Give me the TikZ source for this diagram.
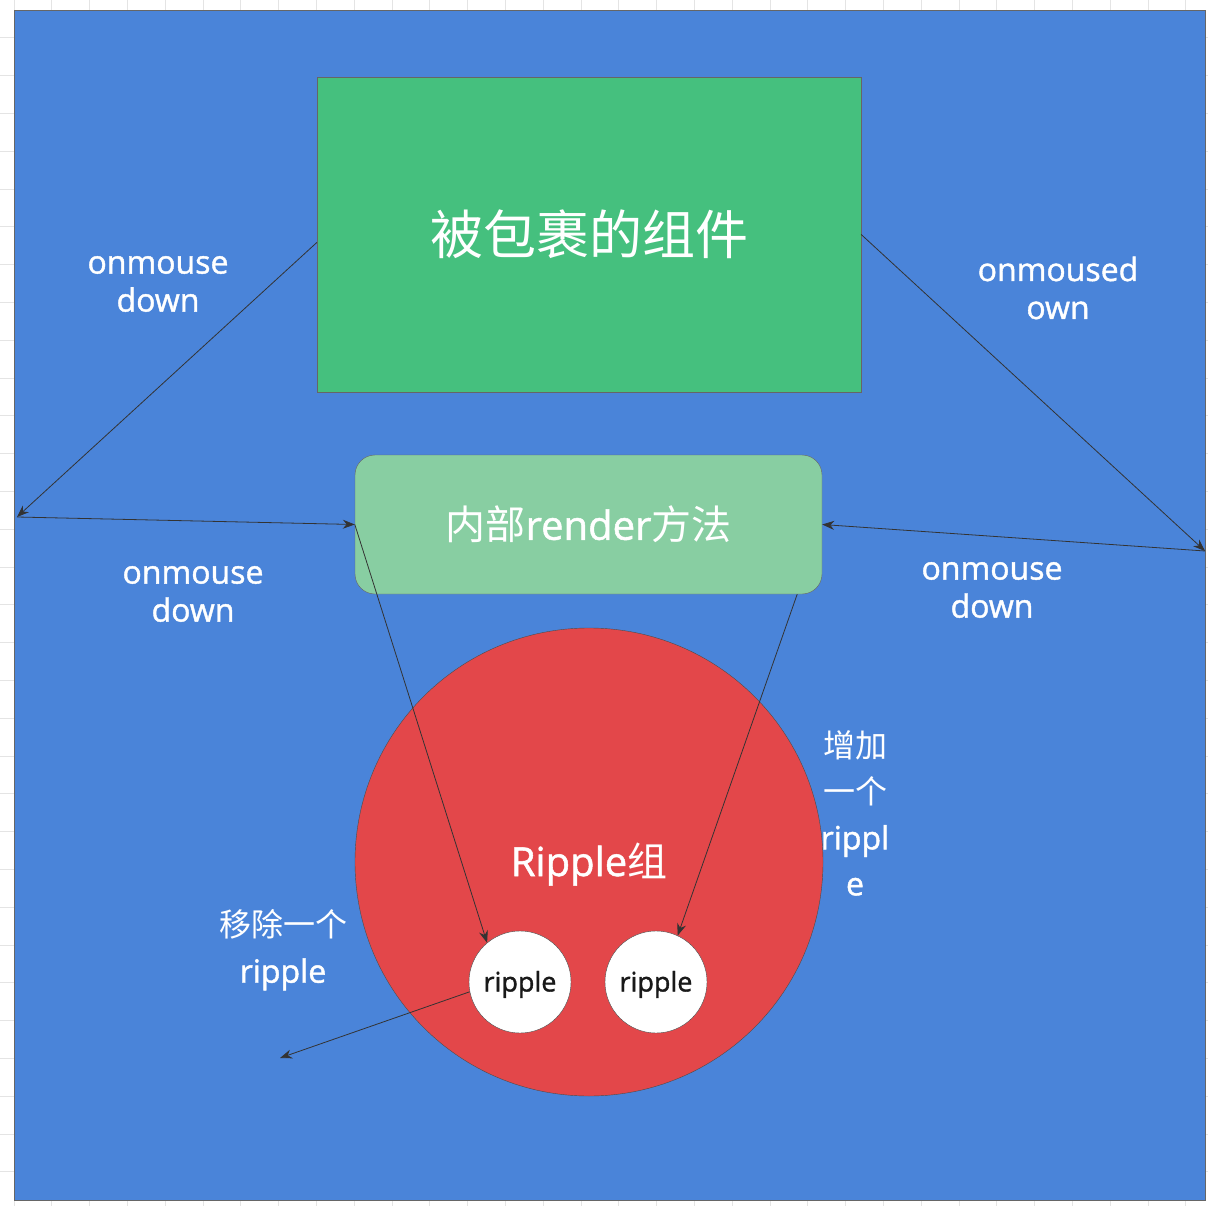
\documentclass[tikz,border=0pt]{standalone}
\usepackage{fontspec}
\setmainfont{Open Sans}[FakeBold=1.3]
\newfontfamily\cjk{Noto Sans CJK SC}
\usetikzlibrary{arrows.meta}
\definecolor{bgBlue}{HTML}{4A84D9}
\definecolor{boxGreen}{HTML}{45C07E}
\definecolor{lightGreen}{HTML}{88CEA2}
\definecolor{groupRed}{HTML}{E3474A}
\definecolor{gridGrey}{HTML}{E4E4E4}
\tikzset{arrowStyle/.style={
    -{Stealth[length=12pt,width=9pt]},
    draw=black!80,
    line width=0.8pt}
}
\tikzset{labelStyle/.style={
    text=white,
    align=center,
    font=\fontsize{32}{38}\selectfont}
}
\tikzset{rippleStyle/.style={
    circle,
    fill=white,
    draw=black!70,
    minimum size=102pt,
    inner sep=0pt,
    text height=22pt,
    text depth=3pt,
    text=black!90,
    font=\fontsize{27}{30}\selectfont}
}

\begin{document}
\begin{tikzpicture}[x=1pt,y=-1pt]
      \useasboundingbox (0,0) rectangle (1208,1206);
      % grid behind the page
      \foreach \i in {0,...,31}
        \draw[gridGrey,line width=0.8pt] (14+37.8*\i,0) -- (14+37.8*\i,1206);
      \foreach \j in {1,...,31}
        \draw[gridGrey,line width=0.8pt] (0,37.8*\j) -- (1208,37.8*\j);

      \draw[fill=bgBlue,draw=black!60,line width=1pt] (14,11) rectangle (1205,1200);

      \node[fill=boxGreen,draw=black!60,minimum width=544pt,minimum height=315pt,
        text=white,font=\cjk\fontsize{53}{60}\selectfont]
      (wrapped) at (589,234.5) {被包裹的组件};

      \node[fill=lightGreen,draw=black!60,rounded corners=20pt,
        minimum width=467pt,minimum height=139pt,
        text=white,font=\fontsize{40}{46}\selectfont]
      (render) at (588.5,524.5) {{\cjk 内部}render{\cjk 方法}};

      \node[circle,fill=groupRed,draw=black!70,minimum size=468pt,inner sep=0pt,
        text height=34pt,text depth=6pt,
        text=white,font=\fontsize{40}{46}\selectfont]
      (rippleGroup) at (589,862) {Ripple{\cjk 组}};

      \node[rippleStyle] (rippleA) at (520,982) {ripple};
      \node[rippleStyle] (rippleB) at (656,982) {ripple};

      % labels
      \node[labelStyle] (lblTopLeft) at (158,284) {onmouse\\down};
      \node[labelStyle] (lblTopRight) at (1058,288) {onmoused\\own};
      \node[labelStyle] (lblMidLeft) at (193,594) {onmouse\\down};
      \node[labelStyle] (lblMidRight) at (992,590) {onmouse\\down};
      \node[labelStyle,font=\fontsize{32}{46}\selectfont]
      (lblAdd) at (855,813) {{\cjk 增加}\\{\cjk 一个}\\rippl\\e};
      \node[labelStyle,font=\fontsize{32}{46}\selectfont]
      (lblRemove) at (283,950) {{\cjk 移除一个}\\ripple};

      \coordinate (leftPt) at (17,517);
      \coordinate (rightPt) at (1205,551);
      \coordinate (dropPt) at (280,1058);

      \draw[arrowStyle] ([yshift=-8pt]wrapped.west) -- (leftPt);
      \draw[arrowStyle] (leftPt) -- (render.west);
      \draw[arrowStyle] (wrapped.east) -- (rightPt);
      \draw[arrowStyle] (rightPt) -- (render.east);
      \draw[arrowStyle] (render.west) -- (rippleA.130);
      \draw[arrowStyle] ([xshift=-25pt]render.south east) -- (rippleB.65);
      \draw[arrowStyle] (rippleA.191) -- (dropPt);
\end{tikzpicture}
\end{document}
